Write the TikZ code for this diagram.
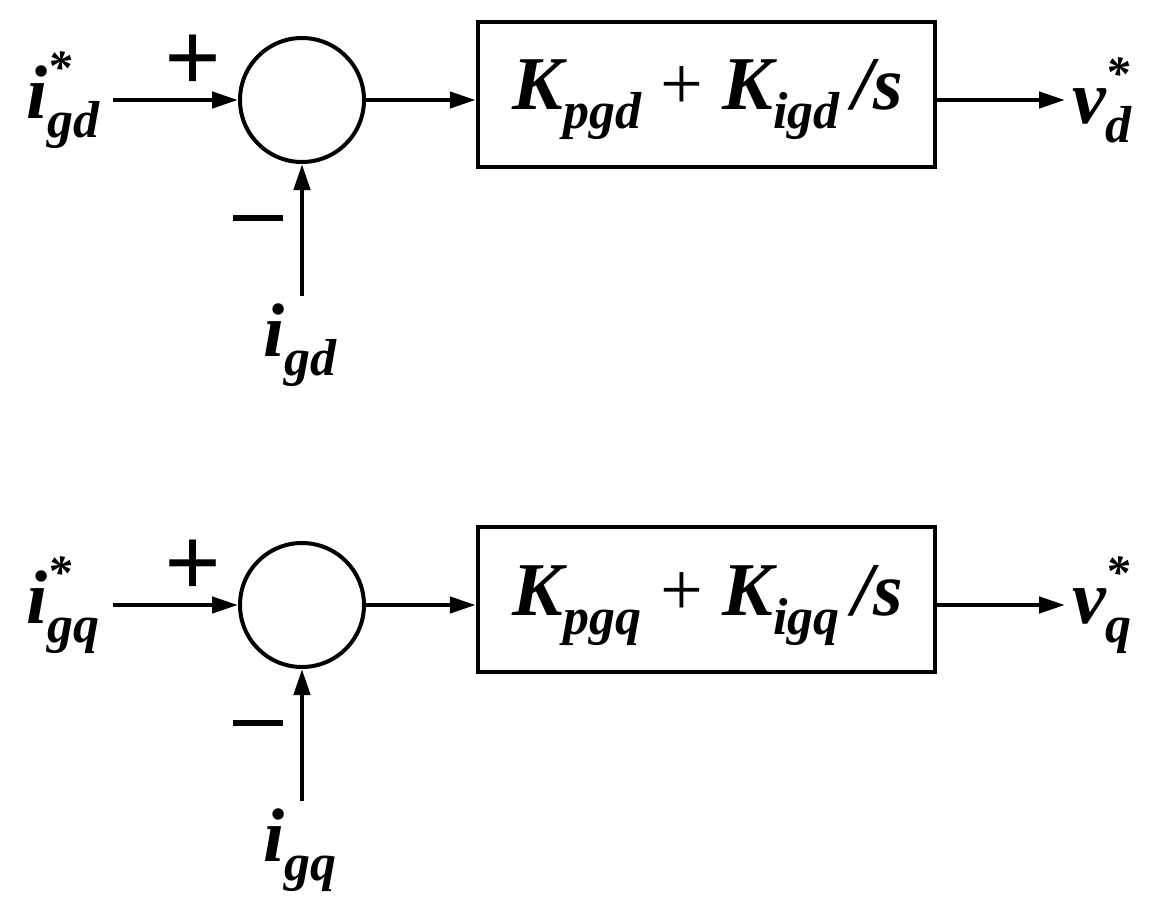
\documentclass[tikz,border=0pt]{standalone}
\usepackage{fontspec}
\setmainfont{Liberation Serif}
\usetikzlibrary{arrows.meta}
\newcommand\lbl[3]{\bfseries\itshape #1\rlap{\raisebox{0.45em}{\fontsize{48}{48}\selectfont #3}}\raisebox{-0.25em}{\fontsize{52}{52}\selectfont #2}}
\newcommand\sbx[2]{\bfseries\itshape #1\raisebox{-0.25em}{\fontsize{52}{52}\selectfont #2}}
\begin{document}
\begin{tikzpicture}[x=1pt,y=-1pt,
  ln/.style={line width=4.5pt,-{Triangle[length=26pt,width=16pt]}},
  sum/.style={circle,draw,line width=4pt,minimum size=124pt,inner sep=0pt},
  blk/.style={draw,line width=4.5pt,minimum width=457pt,minimum height=145pt,inner sep=0pt},
  txt/.style={font=\fontsize{76}{80}\selectfont,inner sep=0pt},
  sg/.style={font=\fontsize{100}{100}\selectfont\bfseries,inner sep=0pt}]
\useasboundingbox (0,0) rectangle (1171,908);
\foreach \o/\c in {0/d,505/q}{
  \node[sum] (s\c) at (302,100+\o) {};
  \node[blk] (b\c) at (706.5,94.5+\o) {};
  \node[txt] (k\c) at (708,100+\o) {\sbx{K}{pg\c} \textmd{\textup{+}} \sbx{K}{ig\c}\,\bfseries\itshape/s};
  \node[txt,anchor=east] (r\c) at (100,100+\o) {\lbl{i}{g\c}{*}};
  \coordinate (ra\c) at (113,100+\o);
  \node[txt] (m\c) at (300,345+\o) {\sbx{i}{g\c}};
  \coordinate (ma\c) at (302,296+\o);
  \coordinate (oa\c) at (1065,100+\o);
  \node[txt,anchor=west] (o\c) at (1072,100+\o) {\lbl{v}{\c}{*}};
  \node[sg] (p\c) at (193,63+\o) {+};
  \node[fill,minimum width=50pt,minimum height=6pt,inner sep=0pt] (n\c) at (258,218+\o) {};
  \draw[ln] (ra\c) -- (s\c.west);
  \draw[ln] (ma\c) -- (s\c.south);
  \draw[ln] (s\c.east) -- (b\c.west|-s\c.east);
  \draw[ln] (b\c.east|-s\c.east) -- (oa\c);
}
\end{tikzpicture}
\end{document}
